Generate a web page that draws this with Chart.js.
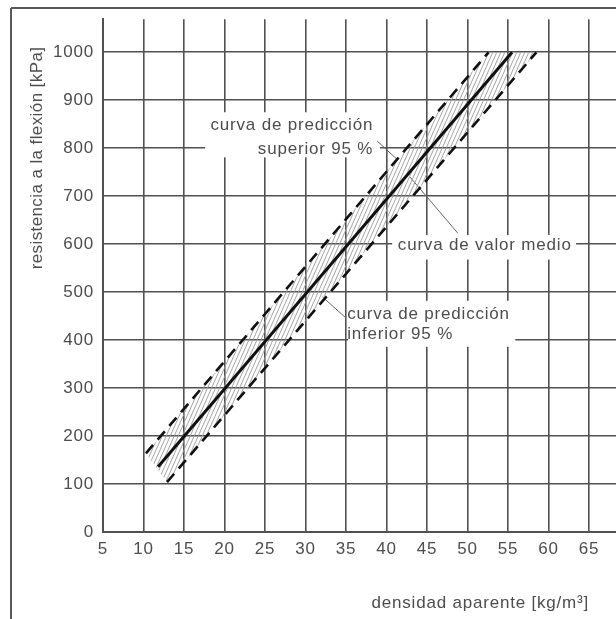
<!DOCTYPE html>
<html>
<head>
<meta charset="utf-8">
<script src="https://cdn.jsdelivr.net/npm/chart.js@4/dist/chart.umd.min.js"></script>
<style>
  html, body { margin: 0; padding: 0; background: #fff; }
  #c { display: block; }
</style>
</head>
<body>
<canvas id="c" width="616" height="619"></canvas>
<script>
// ---- data ----
const xTicks = [5, 10, 15, 20, 25, 30, 35, 40, 45, 50, 55, 60, 65];
const yTicks = [0, 100, 200, 300, 400, 500, 600, 700, 800, 900, 1000];

const meanX  = [11.8, 55.5];
const meanY  = [136, 1000];
const upperX = [10.3, 52.6];
const upperY = [164, 1000];
const lowerX = [12.9, 58.5];
const lowerY = [104, 1000];

const xTitle = 'densidad aparente [kg/m³]';
const yTitle = 'resistencia a la flexión [kPa]';

const labelSuperior = ['curva de predicción', 'superior 95 %'];
const labelMedio = ['curva de valor medio'];
const labelInferior = ['curva de predicción', 'inferior 95 %'];

const pts = (xs, ys) => xs.map((x, i) => ({x: x, y: ys[i]}));
const upperPts = pts(upperX, upperY);
const lowerPts = pts(lowerX, lowerY);
const bandPts = upperPts.concat(lowerPts.slice().reverse());

// ---- styling ----
const FONT = "'Liberation Sans', Arial, Helvetica, sans-serif";
const TXT = '#4d4d4d';
const GRID = '#505050';

function hatchPattern() {
  const w = 4, h = 9;
  const c = document.createElement('canvas');
  c.width = w; c.height = h;
  const g = c.getContext('2d');
  g.strokeStyle = '#9a9a9a';
  g.lineWidth = 0.9;
  for (const dx of [-w, 0, w]) {
    g.beginPath();
    g.moveTo(dx, h);
    g.lineTo(dx + w, 0);
    g.stroke();
  }
  return document.getElementById('c').getContext('2d').createPattern(c, 'repeat');
}

// annotation boxes / texts / leaders (data coordinates)
const annotations = [
  { box: [17.6, 39.2, 875, 781], align: 'right', tx: 38.35, lines: labelSuperior, base: [838, 789],
    leader: [[38.85, 815], [41.3, 777]] },
  { box: [40.7, 63.4, 619, 568], align: 'left', tx: 41.4, lines: labelMedio, base: [587],
    leader: [[48.8, 623], [42.9, 740]] },
  { box: [35.25, 55.9, 482, 386], align: 'left', tx: 35.15, lines: labelInferior, base: [444, 403],
    leader: [[32.1, 490], [35.0, 446]] }
];

const decor = {
  id: 'decor',
  beforeDraw(chart) {
    const ctx = chart.ctx;
    ctx.save();
    ctx.fillStyle = '#fff';
    ctx.fillRect(0, 0, chart.width, chart.height);
    ctx.restore();
    ctx.letterSpacing = '0.8px';
  },
  beforeDatasetsDraw(chart) {
    const ctx = chart.ctx;
    const xs = chart.scales.x, ys = chart.scales.y;
    ctx.save();
    // outer frame
    ctx.strokeStyle = '#5a5a5a';
    ctx.lineWidth = 2;
    ctx.beginPath();
    ctx.moveTo(11, 8); ctx.lineTo(chart.width, 8);
    ctx.moveTo(11, 8); ctx.lineTo(11, chart.height);
    ctx.stroke();

    for (const a of annotations) {
      const x0 = xs.getPixelForValue(a.box[0]), x1 = xs.getPixelForValue(a.box[1]);
      const y0 = ys.getPixelForValue(a.box[2]), y1 = ys.getPixelForValue(a.box[3]);
      ctx.fillStyle = '#fff';
      ctx.fillRect(x0, y0, x1 - x0, y1 - y0);
      ctx.fillStyle = TXT;
      ctx.font = '17px ' + FONT;
      ctx.letterSpacing = '0.8px';
      ctx.textAlign = a.align;
      ctx.textBaseline = 'alphabetic';
      const tx = xs.getPixelForValue(a.tx);
      a.lines.forEach((t, i) => ctx.fillText(t, tx, ys.getPixelForValue(a.base[i])));
      ctx.strokeStyle = '#666';
      ctx.lineWidth = 1;
      ctx.beginPath();
      ctx.moveTo(xs.getPixelForValue(a.leader[0][0]), ys.getPixelForValue(a.leader[0][1]));
      ctx.lineTo(xs.getPixelForValue(a.leader[1][0]), ys.getPixelForValue(a.leader[1][1]));
      ctx.stroke();
    }

    // axis titles
    ctx.fillStyle = TXT;
    ctx.font = '17px ' + FONT;
    ctx.letterSpacing = '0.8px';
    ctx.textAlign = 'right';
    ctx.textBaseline = 'alphabetic';
    ctx.fillText(xTitle, 589, 608);

    ctx.translate(37, 158);
    ctx.rotate(-Math.PI / 2);
    ctx.letterSpacing = '0.4px';
    ctx.textAlign = 'center';
    ctx.textBaseline = 'middle';
    ctx.fillText(yTitle, 0, 0);
    ctx.restore();
  },
  afterDraw(chart) {
    chart.ctx.letterSpacing = '0px';
  }
};

new Chart(document.getElementById('c'), {
  type: 'scatter',
  data: {
    datasets: [
      { label: 'mean', data: pts(meanX, meanY), showLine: true, borderColor: '#111', borderWidth: 3,
        pointRadius: 0, fill: false, order: 0 },
      { label: 'upper', data: upperPts, showLine: true, borderColor: '#111', borderWidth: 2.6,
        borderDash: [11, 7], pointRadius: 0, fill: false, order: 1 },
      { label: 'lower', data: lowerPts, showLine: true, borderColor: '#111', borderWidth: 2.6,
        borderDash: [11, 7], pointRadius: 0, fill: false, order: 2 },
      { label: 'band', data: bandPts, showLine: true, borderWidth: 0, borderColor: 'rgba(0,0,0,0)',
        backgroundColor: hatchPattern(), pointRadius: 0, fill: 'shape', order: 10 }
    ]
  },
  options: {
    responsive: false,
    animation: false,
    layout: { padding: { left: 0, right: 0, top: 9, bottom: 0 } },
    plugins: { legend: { display: false }, tooltip: { enabled: false } },
    scales: {
      x: {
        type: 'linear', min: 5, max: 68.33,
        afterBuildTicks: s => { s.ticks = xTicks.map(v => ({value: v})); },
        afterFit: s => { s.height = 87; },
        grid: { color: GRID, lineWidth: 1.6, drawTicks: false },
        border: { display: true, color: GRID, width: 2 },
        ticks: { padding: 7, color: TXT, font: { family: FONT, size: 17 }, maxRotation: 0, autoSkip: false,
                 callback: v => String(v) }
      },
      y: {
        type: 'linear', min: 0, max: 1069,
        afterBuildTicks: s => { s.ticks = yTicks.map(v => ({value: v})); },
        afterFit: s => { s.width = 103; },
        grid: { color: GRID, lineWidth: 1.6, drawTicks: false },
        border: { display: true, color: GRID, width: 2 },
        ticks: { padding: 9, color: TXT, font: { family: FONT, size: 17 }, autoSkip: false,
                 callback: v => String(v) }
      }
    }
  },
  plugins: [decor]
});
</script>
</body>
</html>
